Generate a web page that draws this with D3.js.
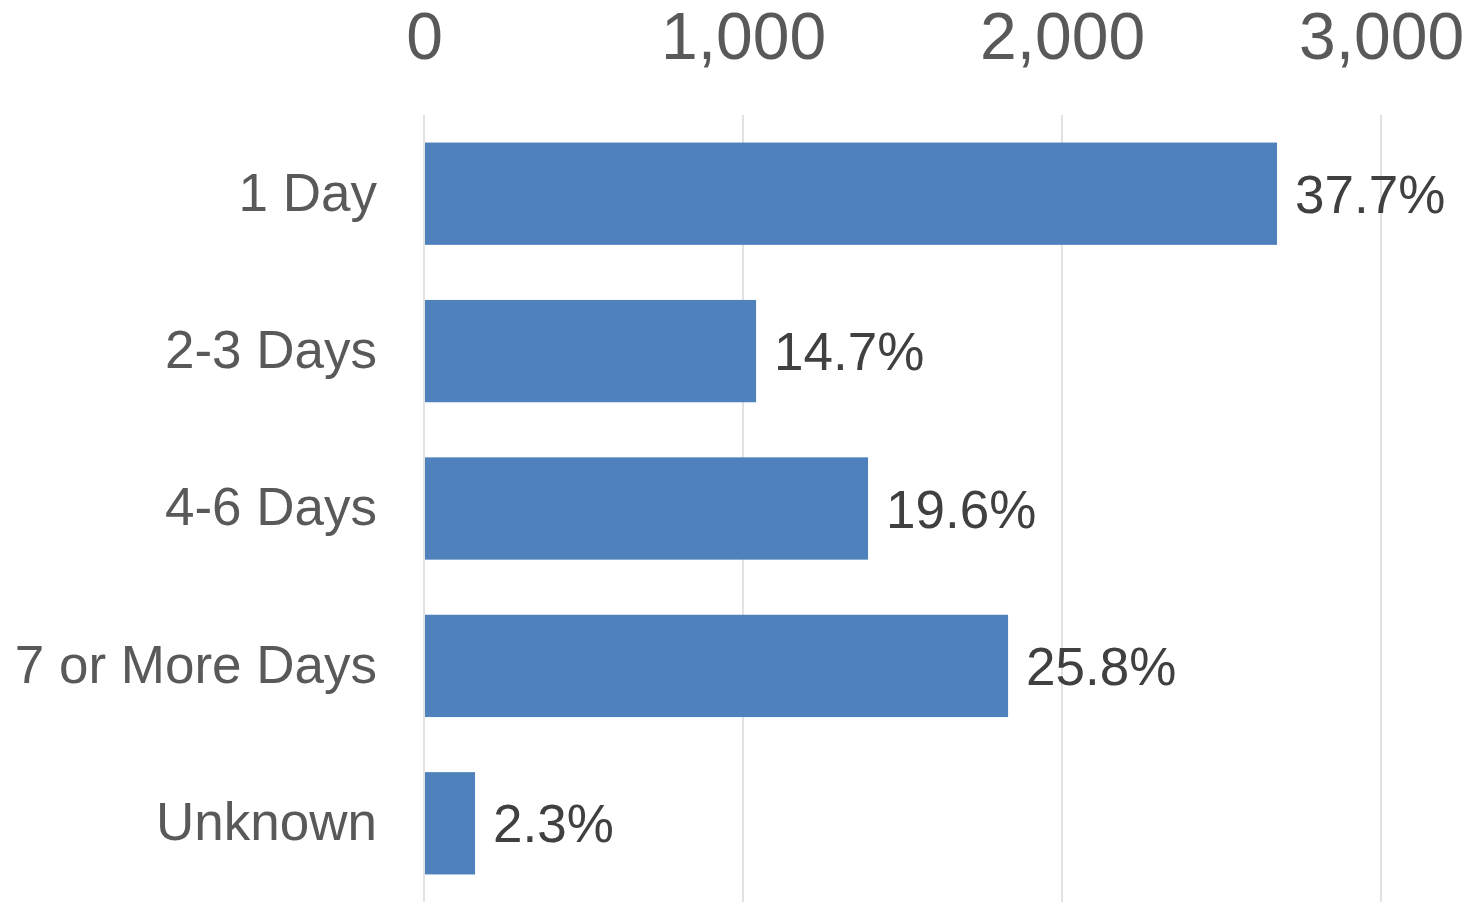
<!DOCTYPE html>
<html>
<head>
<meta charset="utf-8">
<script src="https://cdn.jsdelivr.net/npm/d3@7"></script>
<style>
  html, body { margin: 0; padding: 0; background: #fff; }
  svg { display: block; }
</style>
</head>
<body>
<svg id="chart" width="1483" height="902"></svg>
<script>
const categories = ["1 Day", "2-3 Days", "4-6 Days", "7 or More Days", "Unknown"];
const values = [2674, 1041, 1392, 1831, 160];
const percentLabels = ["37.7%", "14.7%", "19.6%", "25.8%", "2.3%"];
const tickValues = [0, 1000, 2000, 3000];

const svg = d3.select("#chart");
const font = "'Liberation Sans', Arial, sans-serif";

const x = d3.scaleLinear().domain([0, 3000]).range([424, 1381]);
const y = d3.scaleBand().domain(categories).range([115, 902]).paddingInner(0.35).paddingOuter(0.175);

// gridlines
svg.append("g").selectAll("line").data(tickValues).join("line")
  .attr("x1", d => x(d)).attr("x2", d => x(d))
  .attr("y1", 115).attr("y2", 902)
  .attr("stroke", "#d9d9d9").attr("stroke-width", 1.5);

// top axis tick labels
const axis = d3.axisTop(x).tickValues(tickValues).tickFormat(d3.format(",")).tickSize(0).tickPadding(0);
const ax = svg.append("g").attr("transform", "translate(0,59)").call(axis);
ax.select(".domain").remove();
ax.selectAll("text")
  .attr("font-family", font).attr("font-size", 66).attr("fill", "#595959")
  .attr("dy", 0);

// bars
svg.append("g").selectAll("rect").data(categories).join("rect")
  .attr("x", x(0) + 1)
  .attr("y", d => y(d))
  .attr("width", (d, i) => x(values[i]) - x(0) - 1)
  .attr("height", y.bandwidth())
  .attr("fill", "#4f81bd");

// category labels
const yAxis = d3.axisLeft(y).tickSize(0).tickPadding(47);
const yg = svg.append("g").attr("transform", `translate(${x(0)},0)`).call(yAxis);
yg.select(".domain").remove();
yg.selectAll("text")
  .attr("font-family", font).attr("font-size", 53).attr("fill", "#595959");

// data labels
svg.append("g").selectAll("text").data(categories).join("text")
  .attr("x", (d, i) => x(values[i]) + 18)
  .attr("y", d => y(d) + y.bandwidth() / 2)
  .attr("dy", "0.36em")
  .attr("font-family", font).attr("font-size", 53).attr("fill", "#404040")
  .text((d, i) => percentLabels[i]);
</script>
</body>
</html>
